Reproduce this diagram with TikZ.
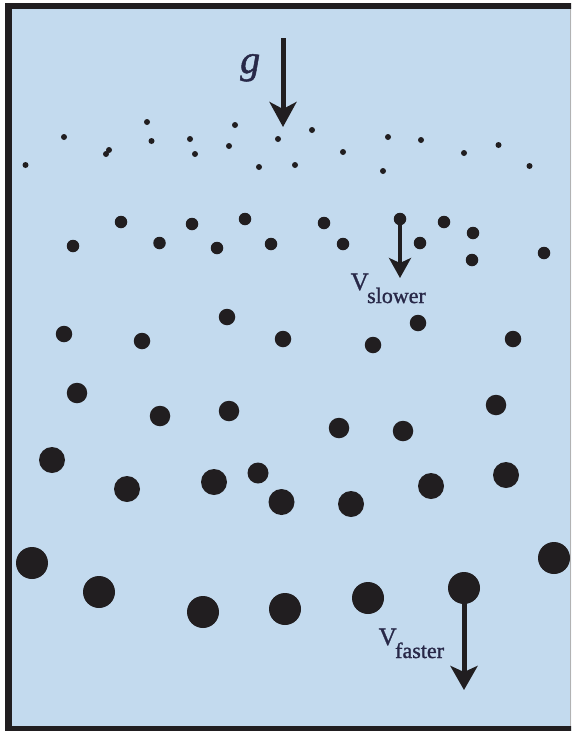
\documentclass[tikz,border=0pt]{standalone}
\usepackage{fontspec}
\setmainfont{Liberation Serif}[FakeBold=1.2]
\usetikzlibrary{arrows.meta}
\definecolor{fluid}{RGB}{195,218,238}
\definecolor{ink}{RGB}{33,30,32}
\definecolor{labelc}{RGB}{40,40,72}
\begin{document}
\begin{tikzpicture}[x=1pt,y=-1pt,
  particle/.style={circle,fill=ink,inner sep=0pt,minimum size=#1},
  fall/.style={draw=ink,line width=#1},
  lbl/.style={text=labelc,inner sep=0pt,anchor=base west}]
\useasboundingbox (0,0) rectangle (571,731);
\clip (0,0) rectangle (571,731);

% tank of fluid with its frame
\fill[fluid] (8,6) rectangle (580,735);
\draw[ink,line width=6.5,line join=miter] (580,6) -- (8.5,6) -- (8.5,729.5) -- (580,729.5);
\draw[gray!60,line width=1] (570,9) -- (570,726);

% smallest particles near the top
\foreach \x/\y [count=\i] in {25.5/165,64/137,106/154,109/150,147/122,151.5/141,190/139,195/154,
  229/146,235/125,259/167,278/139,295/165,312/130,343/152,383/171,388/137,421/140,464/153,498.5/145,529.5/166}
  \node[particle=6] (a\i) at (\x,\y) {};

% second layer
\foreach \x/\y [count=\i] in {73/246,121/222,159.5/243,192/224,217/248,245/219,271/244,324/223,343/244,
  420/243,444/222,473/233,472/260,544/253}
  \node[particle=12.5] (b\i) at (\x,\y) {};
\node[particle=12.5] (slow) at (400,219) {};

% third layer
\foreach \x/\y [count=\i] in {64/334,142/341,227/317,283/339,373/345,418/323,513/339}
  \node[particle=16.5] (c\i) at (\x,\y) {};

% fourth layer
\foreach \x/\y [count=\i] in {77/393,160/416,229/411,339/428,403/431,496/405}
  \node[particle=20.5] (d\i) at (\x,\y) {};

% fifth layer
\foreach \x/\y/\s [count=\i] in {52/460/26,127/489/26,214/482/26,258/473/21,281.5/502/26,351/504/26,431/486/26,506/475/26}
  \node[particle=\s] (e\i) at (\x,\y) {};

% largest particles
\foreach \x/\y [count=\i] in {32/563,99/592,203/612,285/609,368/598,554/558}
  \node[particle=32] (f\i) at (\x,\y) {};
\node[particle=32] (fast) at (464,588) {};

% gravity
\coordinate (gtop) at (283,38);
\coordinate (gtip) at (283,127);
\draw[fall=5,-{Stealth[length=25pt,width=27pt,inset=7pt]}] (gtop) -- (gtip);
\node[lbl,font=\fontsize{40}{40}\selectfont\itshape] (glabel) at (240,73) {g};

% slow particle velocity
\coordinate (slowtip) at (400,278);
\draw[fall=3.5,-{Stealth[length=20pt,width=22pt,inset=5pt]}] (slow.center) -- (slowtip);
\node[lbl,font=\fontsize{25}{25}\selectfont] (vslow) at (350.5,290) {V};
\node[lbl,font=\fontsize{22}{22}\selectfont] (vslowsub) at (367,303) {slower};

% fast particle velocity
\coordinate (fasttip) at (464,690);
\draw[fall=5,-{Stealth[length=24pt,width=27pt,inset=6pt]}] (fast.center) -- (fasttip);
\node[lbl,font=\fontsize{25}{25}\selectfont] (vfast) at (378.5,645) {V};
\node[lbl,font=\fontsize{22}{22}\selectfont] (vfastsub) at (395,658) {faster};
\end{tikzpicture}
\end{document}
